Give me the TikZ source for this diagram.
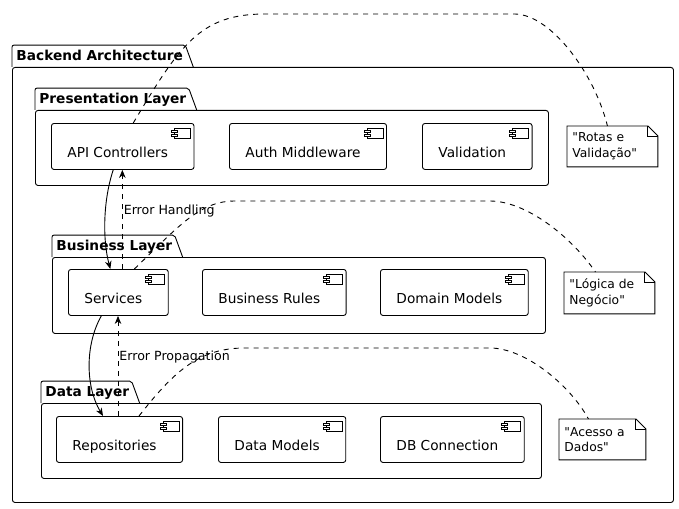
\documentclass[tikz,border=0pt]{standalone}
\usepackage{fontspec}
\setmainfont{DejaVu Sans}
\usetikzlibrary{positioning,arrows.meta,calc}

\begin{document}
\begin{tikzpicture}[
    x=1pt, y=-1pt, line width=0.9pt,
    pkg/.style={rectangle,draw,rounded corners=2.5pt,anchor=north west,inner sep=0pt},
    tab/.style={rectangle,anchor=south west,inner xsep=2pt,inner ysep=1pt,text height=14pt,text depth=5pt,font=\bfseries\fontsize{13.7}{16}\selectfont,execute at begin node={\hspace{2pt}}},
    comp/.style={rectangle,draw,rounded corners=2.5pt,anchor=north west,inner xsep=16pt,inner ysep=0pt,text height=34pt,text depth=12pt,font=\fontsize{13.7}{16}\selectfont,execute at end node={\hspace{10pt}}},
    note/.style={rectangle,anchor=north west,inner xsep=5pt,inner ysep=0pt,align=left,font=\fontsize{12.3}{15.5}\selectfont},
    lbl/.style={anchor=west,inner sep=1pt,font=\fontsize{12.6}{15}\selectfont},
    arrow/.style={-{Stealth[length=8pt,width=6.5pt,inset=2.5pt]}},
    dep/.style={arrow,dash pattern=on 5pt off 5pt},
    link/.style={dash pattern=on 5pt off 5pt}
]

\useasboundingbox (0,0) rectangle (679,508);

% Packages
\node[pkg,minimum width=661pt,minimum height=435pt] (backend) at (12,67) {};
\node[tab] (backendtab) at (backend.north west) {Backend Architecture};
\node[pkg,minimum width=513pt,minimum height=75pt] (pres) at (35,110) {};
\node[tab] (prestab) at (pres.north west) {Presentation Layer};
\node[pkg,minimum width=493pt,minimum height=76pt] (busi) at (52,257) {};
\node[tab] (busitab) at (busi.north west) {Business Layer};
\node[pkg,minimum width=500pt,minimum height=75pt] (data) at (41,403) {};
\node[tab] (datatab) at (data.north west) {Data Layer};

% Tab outlines
\foreach \t in {backendtab,prestab,busitab,datatab} {
    \draw[rounded corners=2pt] (\t.south west) -- (\t.north west) -- (\t.north east) [sharp corners] -- ([xshift=8pt]\t.south east);
}

% Components
\node[comp] (api) at (51,123) {API Controllers};
\node[comp] (auth) at (229,123) {Auth Middleware};
\node[comp] (valid) at (422,123) {Validation};

\node[comp] (svc) at (68,269) {Services};
\node[comp] (rules) at (202,269) {Business Rules};
\node[comp] (domain) at (380,269) {Domain Models};

\node[comp] (repo) at (56,416) {Repositories};
\node[comp] (dmod) at (218,416) {Data Models};
\node[comp] (dbconn) at (380,416) {DB Connection};

% Component icons
\foreach \c in {api,auth,valid,svc,rules,domain,repo,dmod,dbconn} {
    \draw[line width=0.8pt] ([xshift=-20pt,yshift=-5pt]\c.north east) rectangle ([xshift=-4pt,yshift=-15pt]\c.north east);
    \draw[line width=0.8pt,fill=white] ([xshift=-23pt,yshift=-7pt]\c.north east) rectangle ([xshift=-17pt,yshift=-9pt]\c.north east);
    \draw[line width=0.8pt,fill=white] ([xshift=-23pt,yshift=-11pt]\c.north east) rectangle ([xshift=-17pt,yshift=-13pt]\c.north east);
}

% Notes
\node[note,text width=80pt,minimum height=40pt] (note1) at (567,126) {\textquotedbl Rotas e\\Validação\textquotedbl};
\node[note,text width=80pt,minimum height=41pt] (note2) at (564,272) {\textquotedbl Lógica de\\Negócio\textquotedbl};
\node[note,text width=76pt,minimum height=40pt] (note3) at (559,419) {\textquotedbl Acesso a\\Dados\textquotedbl};

\foreach \n in {note1,note2,note3} {
    \draw (\n.north west) -- ([xshift=-10pt]\n.north east) -- ([yshift=-10pt]\n.north east) -- (\n.south east) -- (\n.south west) -- cycle;
    \draw ([xshift=-10pt]\n.north east) -- ([xshift=-10pt,yshift=-10pt]\n.north east) -- ([yshift=-10pt]\n.north east);
}

% Calls between the layers
\draw[arrow] ([xshift=-9.5pt]api.south) .. controls +(-10,30) and +(-8,-30) .. ([xshift=-8pt]svc.north);
\draw[dep] ([xshift=4pt]svc.north) -- ([xshift=4pt]svc.north |- api.south)
    node[lbl,pos=0.58] {Error Handling};

\draw[arrow] ([xshift=-17pt]svc.south) .. controls +(-16,28) and +(-18,-30) .. ([xshift=-16.5pt]repo.north);
\draw[dep] ([xshift=-1.5pt]repo.north) -- ([xshift=-1.5pt]repo.north |- svc.south)
    node[lbl,pos=0.59] {Error Propagation};

% Note links
\draw[link] ([xshift=10.5pt]api.north) .. controls (180,45) and (200,14) .. (265,14) -- (515,14)
    .. controls (552,15) and (595,75) .. ([xshift=-5pt]note1.north);
\draw[link] ([xshift=16pt]svc.north) .. controls (180,225) and (200,201) .. (235,201) -- (490,201)
    .. controls (525,201) and (570,235) .. ([xshift=-14pt]note2.north);
\draw[link] ([xshift=19.5pt]repo.north) .. controls (175,370) and (200,348) .. (245,348) -- (490,348)
    .. controls (525,348) and (570,385) .. ([xshift=-14pt]note3.north);

\end{tikzpicture}
\end{document}
